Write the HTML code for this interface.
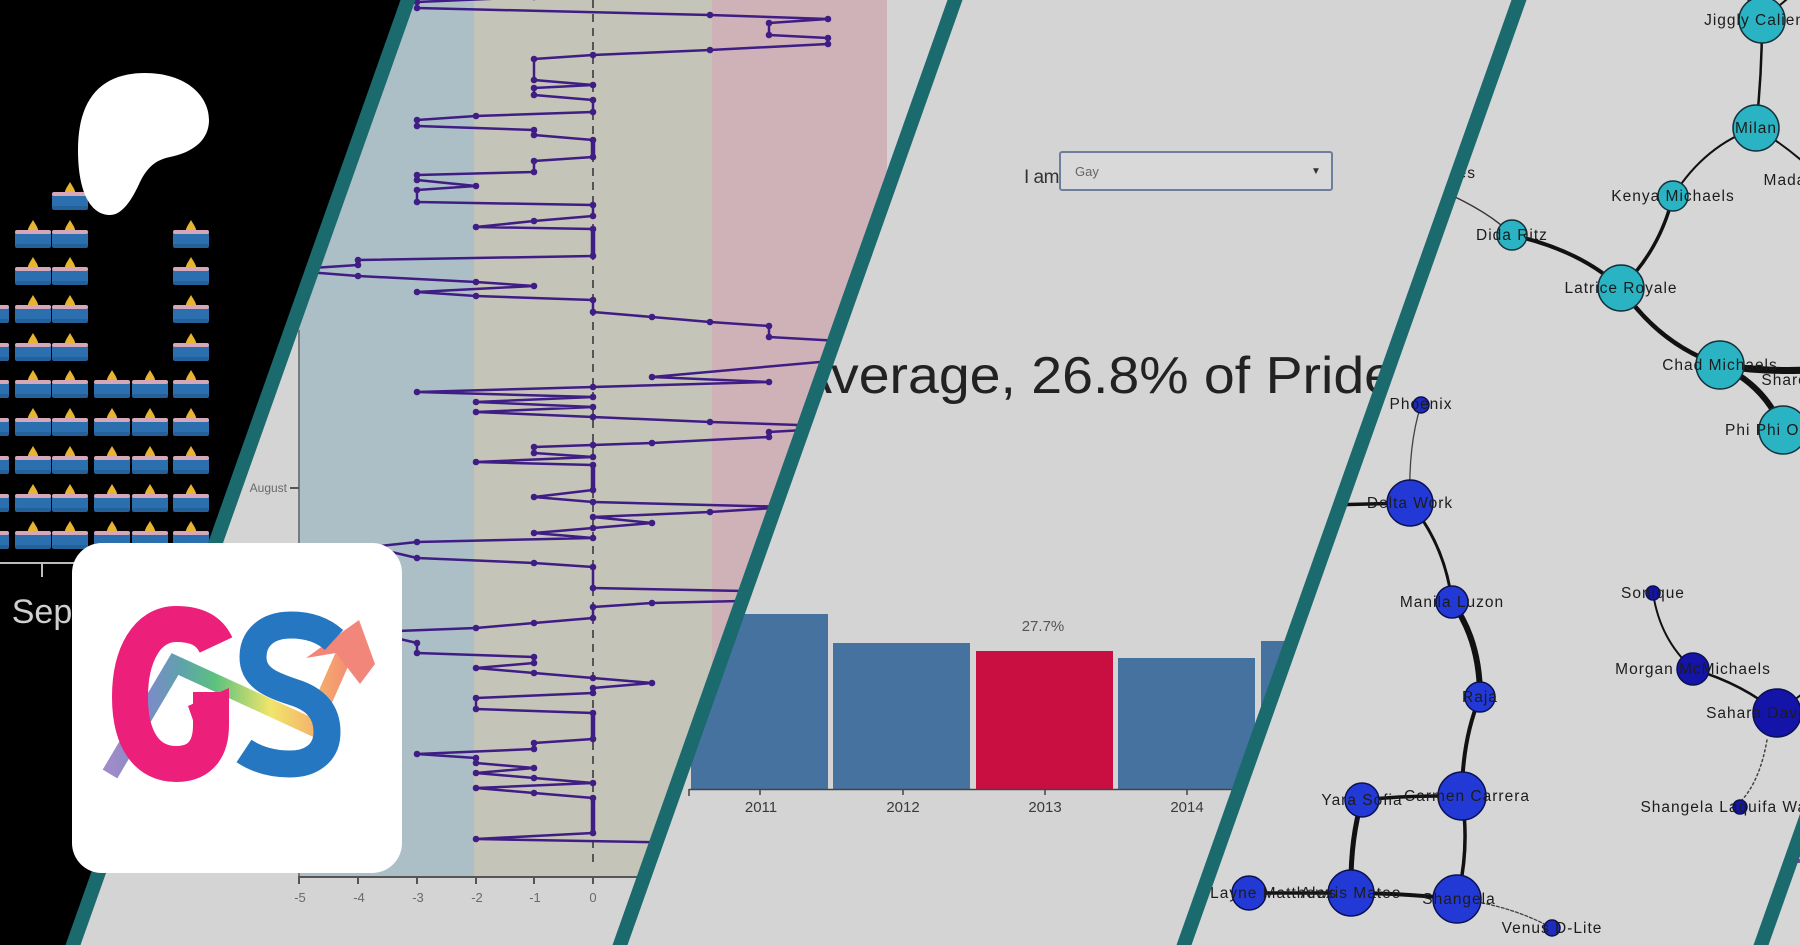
<!DOCTYPE html>
<html>
<head>
<meta charset="utf-8">
<style>
  html,body{margin:0;padding:0;background:#000;}
  svg{display:block;}
  text{font-family:"Liberation Sans", Arial, sans-serif;}
</style>
</head>
<body>
<svg width="1800" height="945" viewBox="0 0 1800 945" xmlns="http://www.w3.org/2000/svg">
  <defs>
    <clipPath id="c1"><polygon points="0,0 408,0 73,945 0,945"/></clipPath>
    <clipPath id="c2"><polygon points="408,0 955,0 620,945 73,945"/></clipPath>
    <clipPath id="c3"><polygon points="955,0 1519,0 1184,945 620,945"/></clipPath>
    <clipPath id="c4"><polygon points="1519,0 2096,0 1761,945 1184,945"/></clipPath>
    <linearGradient id="rb" gradientUnits="userSpaceOnUse" x1="100" y1="0" x2="375" y2="0">
      <stop offset="0" stop-color="#a88cc8"/>
      <stop offset="0.18" stop-color="#7b8cc8"/>
      <stop offset="0.3" stop-color="#5ea3aa"/>
      <stop offset="0.42" stop-color="#5cc27e"/>
      <stop offset="0.62" stop-color="#f1e56b"/>
      <stop offset="0.8" stop-color="#f5ac6c"/>
      <stop offset="1" stop-color="#f0727a"/>
    </linearGradient>
    <marker id="m" markerWidth="8" markerHeight="8" refX="4" refY="4" markerUnits="userSpaceOnUse">
      <circle cx="4" cy="4" r="3.3" fill="#3f1d84"/>
    </marker>
    <g id="cd">
      <path d="M0,0 C3,5 6,9 5,12 L-5,12 C-6,9 -3,5 0,0 Z" fill="#e7b42f"/>
      <rect x="-18" y="10" width="36" height="18" rx="3" fill="#2b6fae"/>
      <rect x="-18" y="10" width="36" height="4" rx="2" fill="#d6a7b8"/>
      <rect x="-18" y="24" width="36" height="4" rx="2" fill="#24609a"/>
    </g>
  </defs>

  <rect x="0" y="0" width="1800" height="945" fill="#d6d6d6"/>

  <!-- ================= PANEL 4 : network ================= -->
  <g clip-path="url(#c4)">
    <rect x="1180" y="0" width="920" height="945" fill="#d6d6d6"/>
    <g fill="none" stroke="#111" stroke-linecap="round">
      <path d="M1762 20 L1745 -5" stroke-width="2"/>
      <path d="M1762 20 L1792 -5" stroke-width="2"/>
      <path d="M1762 20 Q1762 75 1756 128" stroke-width="2.5"/>
      <path d="M1756 128 Q1705 145 1673 196" stroke-width="2"/>
      <path d="M1756 128 Q1785 145 1810 168" stroke-width="2"/>
      <path d="M1673 196 Q1660 250 1621 288" stroke-width="3.5"/>
      <path d="M1440 190 Q1490 212 1512 235" stroke-width="1.5" stroke="#333"/>
      <path d="M1512 235 Q1580 250 1621 288" stroke-width="4"/>
      <path d="M1621 288 Q1660 345 1720 365" stroke-width="4.5"/>
      <path d="M1720 365 Q1765 385 1783 430" stroke-width="6"/>
      <path d="M1720 365 Q1760 372 1810 370" stroke-width="7"/>

      <path d="M1421 405 Q1408 445 1410 503" stroke-width="1.3" stroke="#444"/>
      <path d="M1330 505 L1410 503" stroke-width="3.5"/>
      <path d="M1410 503 Q1445 545 1452 602" stroke-width="3"/>
      <path d="M1452 602 Q1480 640 1480 697" stroke-width="6"/>
      <path d="M1480 697 Q1462 740 1462 796" stroke-width="4"/>
      <path d="M1362 800 Q1410 795 1462 796" stroke-width="3.5"/>
      <path d="M1362 800 Q1350 840 1351 893" stroke-width="5"/>
      <path d="M1462 796 Q1470 850 1457 899" stroke-width="3.5"/>
      <path d="M1351 893 Q1400 893 1457 899" stroke-width="4"/>
      <path d="M1240 893 L1351 893" stroke-width="3.5"/>
      <path d="M1457 899 Q1510 905 1552 928" stroke-width="1.3" stroke-dasharray="3 2" stroke="#444"/>
      <path d="M1653 593 Q1660 640 1693 669" stroke-width="2"/>
      <path d="M1693 669 Q1745 685 1777 713" stroke-width="2.5"/>
      <path d="M1777 713 L1810 688" stroke-width="2"/>
      <path d="M1767 740 Q1760 780 1742 800" stroke-width="1.5" stroke-dasharray="2 3" stroke="#444"/>
    </g>
    <g stroke="#14303a" stroke-width="1.5" fill="#2ab3c2">
      <circle cx="1762" cy="20" r="23"/>
      <circle cx="1756" cy="128" r="23"/>
      <circle cx="1673" cy="196" r="15"/>
      <circle cx="1512" cy="235" r="15"/>
      <circle cx="1621" cy="288" r="23"/>
      <circle cx="1720" cy="365" r="24"/>
      <circle cx="1783" cy="430" r="24"/>
    </g>
    <g stroke="#0a1050" stroke-width="1.5" fill="#2239d6">
      <circle cx="1421" cy="405" r="8" fill="#1d2cbc"/>
      <circle cx="1410" cy="503" r="23"/>
      <circle cx="1452" cy="602" r="16"/>
      <circle cx="1480" cy="697" r="15"/>
      <circle cx="1462" cy="796" r="24"/>
      <circle cx="1362" cy="800" r="17"/>
      <circle cx="1351" cy="893" r="23"/>
      <circle cx="1249" cy="893" r="17"/>
      <circle cx="1457" cy="899" r="24"/>
      <circle cx="1552" cy="928" r="8" fill="#1d2cbc"/>
      <circle cx="1653" cy="593" r="7" fill="#1414a8"/>
      <circle cx="1693" cy="669" r="16" fill="#1414a8"/>
      <circle cx="1777" cy="713" r="24" fill="#1414a8"/>
      <circle cx="1740" cy="807" r="7" fill="#1414a8"/>
    </g>
    <g font-size="15.5" fill="#1c1c1c" text-anchor="middle" letter-spacing="1">
      <text x="1762" y="25">Jiggly Caliente</text>
      <text x="1756" y="133">Milan</text>
      <text x="1833" y="185">Madame LaQueer</text>
      <text x="1673" y="201">Kenya Michaels</text>
      <text x="1476" y="178" text-anchor="end">Jujubees</text>
      <text x="1512" y="240">Dida Ritz</text>
      <text x="1621" y="293">Latrice Royale</text>
      <text x="1720" y="370">Chad Michaels</text>
      <text x="1824" y="385">Sharon Needles</text>
      <text x="1783" y="435">Phi Phi O'Hara</text>
      <text x="1421" y="409">Phoenix</text>
      <text x="1410" y="508">Delta Work</text>
      <text x="1452" y="607">Manila Luzon</text>
      <text x="1480" y="702">Raja</text>
      <text x="1467" y="801">Carmen Carrera</text>
      <text x="1362" y="805">Yara Sofia</text>
      <text x="1351" y="898">Alexis Mateo</text>
      <text x="1249" y="898">Stacy Layne Matthews</text>
      <text x="1459" y="904">Shangela</text>
      <text x="1552" y="933">Venus D-Lite</text>
      <text x="1653" y="598">Sonique</text>
      <text x="1693" y="674">Morgan McMichaels</text>
      <text x="1777" y="718">Sahara Davenport</text>
      <text x="1740" y="812">Shangela Laquifa Wadley</text>
    </g>
  </g>

  <polygon points="1800,850 1800,945 1761,945" fill="#d6d6d6"/>
  <rect x="1792" y="859" width="10" height="4" fill="#8a3a9a"/>

  <!-- ================= PANEL 3 : bar chart ================= -->
  <g clip-path="url(#c3)">
    <rect x="600" y="0" width="940" height="945" fill="#d4d4d4"/>
    <text x="1024" y="183" font-size="19" fill="#333" letter-spacing="-0.5">I am</text>
    <rect x="1060" y="152" width="272" height="38" rx="2" fill="#d9d9d9" stroke="#6e7f9e" stroke-width="2"/>
    <text x="1075" y="176" font-size="13" fill="#666">Gay</text>
    <text x="1311" y="174" font-size="10" fill="#333">&#9660;</text>
    <text x="795" y="393" font-size="52" fill="#222" textLength="600" lengthAdjust="spacingAndGlyphs">Average, 26.8% of Pride</text>

    <rect x="691" y="614" width="137" height="175" fill="#4672a0"/>
    <rect x="833" y="643" width="137" height="146" fill="#4672a0"/>
    <rect x="976" y="651" width="137" height="138" fill="#c90f42"/>
    <rect x="1118" y="658" width="137" height="131" fill="#4672a0"/>
    <rect x="1261" y="641" width="137" height="148" fill="#4672a0"/>
    <line x1="689" y1="789.5" x2="1420" y2="789.5" stroke="#444" stroke-width="1.5"/>
    <g stroke="#444" stroke-width="1.5">
      <line x1="689" y1="789" x2="689" y2="796"/>
      <line x1="760" y1="789" x2="760" y2="795"/>
      <line x1="903" y1="789" x2="903" y2="795"/>
      <line x1="1045" y1="789" x2="1045" y2="795"/>
      <line x1="1187" y1="789" x2="1187" y2="795"/>
    </g>
    <g font-size="15" fill="#3a3a3a" text-anchor="middle">
      <text x="761" y="812">2011</text>
      <text x="903" y="812">2012</text>
      <text x="1045" y="812">2013</text>
      <text x="1187" y="812">2014</text>
      <text x="1330" y="812">2015</text>
    </g>
    <text x="1043" y="631" font-size="15" fill="#555" text-anchor="middle">27.7%</text>
  </g>

  <!-- ================= PANEL 2 : line chart ================= -->
  <g clip-path="url(#c2)">
    <rect x="60" y="0" width="910" height="945" fill="#d4d4d4"/>
    <rect x="60" y="0" width="414" height="330" fill="#adbfc6"/>
    <rect x="299" y="330" width="175" height="546" fill="#adbfc6"/>
    <rect x="474" y="0" width="238" height="876" fill="#c5c4b8"/>
    <rect x="712" y="0" width="175" height="876" fill="#cfb2b8"/>
    <line x1="593" y1="0" x2="593" y2="868" stroke="#555" stroke-width="2" stroke-dasharray="8 6"/>
    <line x1="299" y1="330" x2="299" y2="878" stroke="#7a7a7a" stroke-width="2"/>
    <line x1="298" y1="877" x2="700" y2="877" stroke="#555" stroke-width="2"/>
    <g stroke="#555" stroke-width="2">
      <line x1="299" y1="877" x2="299" y2="884"/>
      <line x1="358" y1="877" x2="358" y2="884"/>
      <line x1="417" y1="877" x2="417" y2="884"/>
      <line x1="476" y1="877" x2="476" y2="884"/>
      <line x1="534" y1="877" x2="534" y2="884"/>
      <line x1="593" y1="877" x2="593" y2="884"/>
      <line x1="652" y1="877" x2="652" y2="884"/>
      <line x1="290" y1="488" x2="299" y2="488"/>
    </g>
    <g font-size="13" fill="#6a6a6a" text-anchor="middle">
      <text x="300" y="902">-5</text>
      <text x="359" y="902">-4</text>
      <text x="418" y="902">-3</text>
      <text x="477" y="902">-2</text>
      <text x="535" y="902">-1</text>
      <text x="593" y="902">0</text>
      <text x="652" y="902">1</text>
    </g>
    <text x="287" y="492" font-size="12" fill="#6a6a6a" text-anchor="end">August</text>
    <polyline fill="none" stroke="#3f1d84" stroke-width="2.5" stroke-linejoin="round"
      marker-start="url(#m)" marker-mid="url(#m)" marker-end="url(#m)"
      points="534,-3 417,2 417,8 710,15 828,19 769,23 769,35 828,38 828,44 710,50 593,55 534,59 534,80 593,85 534,88 534,95 593,100 593,112 476,116 417,120 417,126 534,130 534,135 593,140 593,157 534,161 534,172 417,175 417,180 476,186 417,190 417,202 593,205 593,216 534,221 476,227 593,229 593,256 358,260 358,265 282,270 358,276 476,282 534,286 417,292 476,296 593,300 593,312 652,317 710,322 769,326 769,337 840,341 887,356 652,377 769,382 593,387 417,392 593,397 476,402 593,407 476,412 593,417 710,422 857,427 769,432 769,437 652,443 593,445 534,447 534,453 593,457 476,462 593,465 593,490 534,497 593,502 790,507 710,512 593,517 652,523 593,528 534,533 593,538 417,542 370,547 417,558 534,563 593,567 593,588 798,592 787,600 652,603 593,607 593,618 534,623 476,628 370,632 417,643 417,653 534,657 534,663 476,668 534,673 593,678 652,683 593,688 593,693 476,698 476,709 593,713 593,739 534,743 534,749 417,754 476,758 476,763 534,768 476,773 534,778 593,783 476,788 534,793 593,798 593,833 476,839 700,843 800,850"/>
    <g stroke="#3f1d84" stroke-width="4.5">
      <line x1="593" y1="229" x2="593" y2="256"/>
      <line x1="593" y1="465" x2="593" y2="490"/>
      <line x1="593" y1="713" x2="593" y2="739"/>
      <line x1="593" y1="798" x2="593" y2="833"/>
      <line x1="593" y1="140" x2="593" y2="157"/>
    </g>
  </g>

  <!-- ================= PANEL 1 : candles ================= -->
  <g clip-path="url(#c1)">
    <rect x="0" y="0" width="420" height="945" fill="#000"/>
    <use href="#cd" x="-9" y="295"/><use href="#cd" x="-9" y="333"/><use href="#cd" x="-9" y="370"/><use href="#cd" x="-9" y="408"/><use href="#cd" x="-9" y="446"/><use href="#cd" x="-9" y="484"/><use href="#cd" x="-9" y="521"/>
    <use href="#cd" x="33" y="220"/><use href="#cd" x="33" y="257"/><use href="#cd" x="33" y="295"/><use href="#cd" x="33" y="333"/><use href="#cd" x="33" y="370"/><use href="#cd" x="33" y="408"/><use href="#cd" x="33" y="446"/><use href="#cd" x="33" y="484"/><use href="#cd" x="33" y="521"/>
    <use href="#cd" x="70" y="182"/><use href="#cd" x="70" y="220"/><use href="#cd" x="70" y="257"/><use href="#cd" x="70" y="295"/><use href="#cd" x="70" y="333"/><use href="#cd" x="70" y="370"/><use href="#cd" x="70" y="408"/><use href="#cd" x="70" y="446"/><use href="#cd" x="70" y="484"/><use href="#cd" x="70" y="521"/>
    <use href="#cd" x="112" y="370"/><use href="#cd" x="112" y="408"/><use href="#cd" x="112" y="446"/><use href="#cd" x="112" y="484"/><use href="#cd" x="112" y="521"/>
    <use href="#cd" x="150" y="370"/><use href="#cd" x="150" y="408"/><use href="#cd" x="150" y="446"/><use href="#cd" x="150" y="484"/><use href="#cd" x="150" y="521"/>
    <use href="#cd" x="191" y="220"/><use href="#cd" x="191" y="257"/><use href="#cd" x="191" y="295"/><use href="#cd" x="191" y="333"/><use href="#cd" x="191" y="370"/><use href="#cd" x="191" y="408"/><use href="#cd" x="191" y="446"/><use href="#cd" x="191" y="484"/><use href="#cd" x="191" y="521"/>
    <line x1="0" y1="563" x2="240" y2="563" stroke="#bdbdbd" stroke-width="2"/>
    <line x1="42" y1="563" x2="42" y2="577" stroke="#bdbdbd" stroke-width="2"/>
    <text x="42" y="623" font-size="34" fill="#cfcfcf" text-anchor="middle">Sep</text>
    <path d="M78 150 C78 100 100 73 145 73 C185 73 209 95 209 120 C209 142 190 153 170 157 C155 160 147 168 140 182 C132 200 122 215 110 215 C92 215 78 195 78 150 Z" fill="#fff"/>
  </g>

  <!-- ================= STRIPES ================= -->
  <g fill="#1a6a6e">
    <polygon points="400.5,0 415.5,0 80.5,945 65.5,945"/>
    <polygon points="947.5,0 962.5,0 627.5,945 612.5,945"/>
    <polygon points="1511.5,0 1526.5,0 1191.5,945 1176.5,945"/>
    <polygon points="2088.5,0 2103.5,0 1768.5,945 1753.5,945"/>
  </g>

  <!-- ================= GS LOGO ================= -->
  <rect x="72" y="543" width="330" height="330" rx="30" fill="#fff"/>
  <g>
    <polyline points="110,774 175,664 312,727 346,650" fill="none" stroke="url(#rb)" stroke-width="17" stroke-linejoin="miter" stroke-miterlimit="4"/>
    <polygon points="359,620 306,658 336,653 360,684 375,664" fill="#f2867a"/>
    <path d="M216 645 C209 630 196 624 176 624 C147 624 130 655 130 697 C130 741 148 764 176 764 C201 764 211 748 211 725 L211 692" fill="none" stroke="#ec1f7a" stroke-width="36"/>
    <polygon points="188,706 229,688 229,724 194,723" fill="#ec1f7a"/>
    <path d="M334 640 C322 629 307 625 291 625 C266 625 253 639 253 657 C253 678 272 685 293 692 C316 699 327 712 327 732 C327 754 310 764 290 764 C272 764 256 759 244 751" fill="none" stroke="#2577c2" stroke-width="27"/>
  </g>
</svg>
</body>
</html>
